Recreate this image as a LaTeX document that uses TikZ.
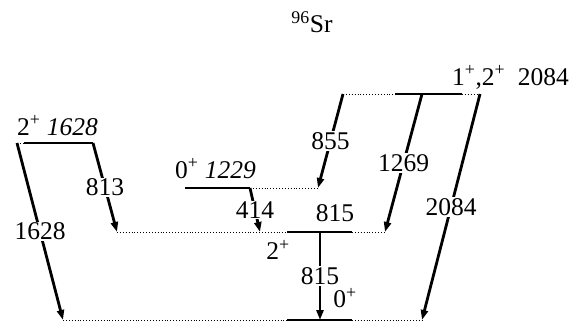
\documentclass[tikz,border=0pt]{standalone}
\usepackage{fontspec}
\setmainfont{Liberation Serif}
\usetikzlibrary{arrows.meta}
\tikzset{
  gam/.style={line width=2.8pt, -{Triangle[length=10pt,width=7pt]}},
  lev/.style={line width=1.3pt},
  levdot/.style={line width=0.9pt, dotted},
  elab/.style={fill=white, inner sep=1pt},
}
\begin{document}
\begin{tikzpicture}[x=1pt, y=-1pt, every node/.style={font=\rmfamily\fontsize{25.5}{30}\selectfont}]
\useasboundingbox (0,0) rectangle (581,327);
% levels
\coordinate (a1) at (343,94);  \coordinate (a2) at (422,94);  \coordinate (a3) at (480,94);
\coordinate (b1) at (17,143);  \coordinate (b2) at (93,143);
\coordinate (c1) at (250,188); \coordinate (c2) at (318,188);
\coordinate (d1) at (117,232); \coordinate (d2) at (260,232); \coordinate (d3) at (320,232); \coordinate (d4) at (385,232);
\coordinate (g1) at (63,320);  \coordinate (g2) at (320,320); \coordinate (g3) at (422,320);
\draw[levdot] (a1) -- (395,94);
\draw[lev] (395,94) -- (462,94);
\draw[levdot] (462,94) -- (a3);
\draw[levdot] (b1) -- (24,143);
\draw[lev] (24,143) -- (b2);
\draw[lev] (185,188) -- (c1);
\draw[levdot] (c1) -- (c2);
\draw[levdot] (d1) -- (287,232);
\draw[lev] (287,232) -- (352,232);
\draw[levdot] (352,232) -- (d4);
\draw[levdot] (g1) -- (287,320);
\draw[lev] (287,320) -- (352,320);
\draw[levdot] (352,320) -- (g3);
% level labels
\node (title) at (312,22) {\textsuperscript{96}Sr};
\node[anchor=base west, inner sep=0pt] (l2084) at (452,85) {1\textsuperscript{+},2\textsuperscript{+}~~2084};
\node[anchor=base west, inner sep=0pt] (l1628) at (17,135) {2\textsuperscript{+} \textit{1628}};
\node[anchor=base west, inner sep=0pt] (l1229) at (175,178) {0\textsuperscript{+} \textit{1229}};
\node (e815) at (335,213) {815};
\node (s2) at (278,250) {2\textsuperscript{+}};
\node (s0) at (345,298) {0\textsuperscript{+}};
% transitions
\draw[gam] (b1) -- (g1) node[elab, midway] (t1628) {1628};
\draw[gam] (b2) -- (d1) node[elab, midway] (t813) {813};
\draw[gam] (a1) -- (c2) node[elab, midway] (t855) {855};
\draw[gam] (c1) -- (d2) node[elab, midway] (t414) {414};
\draw[gam] (a2) -- (d4) node[elab, midway] (t1269) {1269};
\draw[gam] (a3) -- (g3) node[elab, midway] (t2084) {2084};
\draw[gam] (d3) -- (g2) node[elab, midway] (t815) {815};
\end{tikzpicture}
\end{document}
